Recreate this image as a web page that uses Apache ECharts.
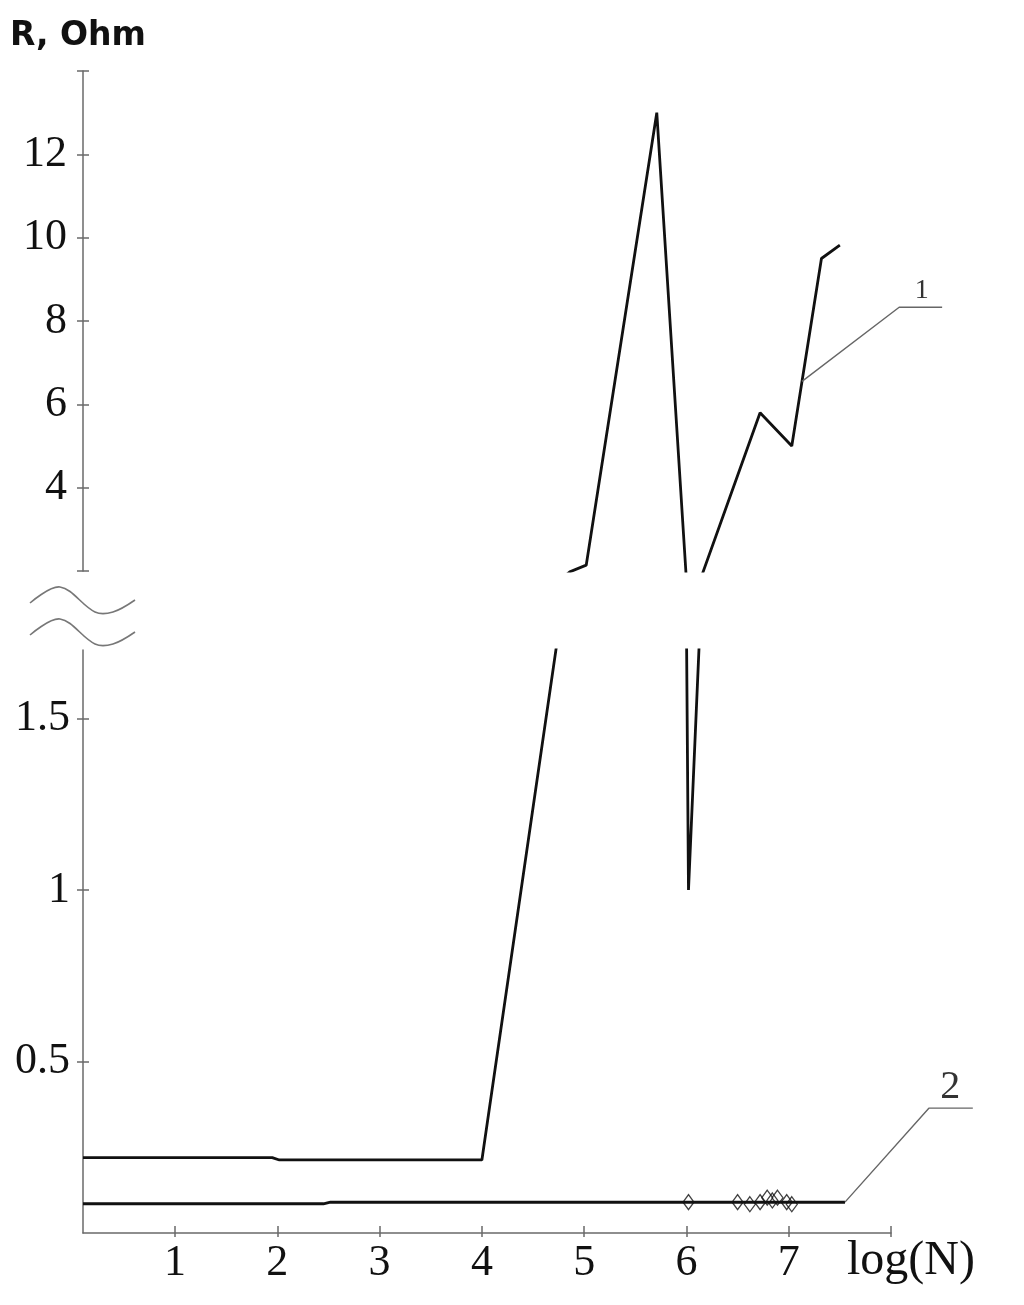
<!DOCTYPE html>
<html>
<head>
<meta charset="utf-8">
<script src="https://cdn.jsdelivr.net/npm/echarts@6/dist/echarts.min.js"></script>
<style>html,body{margin:0;padding:0;background:#fff}#c{width:1024px;height:1305px}</style>
</head>
<body>
<div id="c"></div>
<script>
// ---- data (log(N), R in Ohm) ----
const series1 = [[0.1,0.22],[1.95,0.22],[2.02,0.213],[4.0,0.213],[4.86,1.98],[5.02,2.14],[5.71,13.0],[6.02,1.0],[6.72,5.8],[7.03,5.0],[7.32,9.5],[7.5,9.82]];
const series2 = [[0.1,0.085],[2.45,0.085],[2.52,0.09],[7.55,0.09]];
const series2Markers = [[6.02,0.09],[6.5,0.09],[6.62,0.084],[6.72,0.09],[6.79,0.103],[6.84,0.095],[6.89,0.103],[6.98,0.09],[7.03,0.084]];
const leader1 = [[7.13,6.55],[8.08,8.33],[8.5,8.33]];
const leader2 = [[7.55,0.09],[8.37,0.364],[8.8,0.364]];
const label1Pos = [[8.3,8.33]];
const label2Pos = [[8.58,0.364]];
const xTicks = [1,2,3,4,5,6,7,8];
const xLabels = [1,2,3,4,5,6,7];
const yUpperTicks = [2,4,6,8,10,12,14];
const yUpperLabels = [4,6,8,10,12];
const yLowerTicks = [0.5,1,1.5];
const yLowerLabels = [0.5,1,1.5];

const AX = '#6a6a6a';
const serif = 'Liberation Serif';
const chart = echarts.init(document.getElementById('c'), null, {renderer:'canvas'});
const gridL = 83, gridR = 133;
const PX_PER_UNIT = (1024 - gridL - gridR) / (8 - 0.1);
const xBase = {type:'value', min:0.1, max:8};
const xWide = {type:'value', min:0.1, max:9.3, show:false};
const option = {
  backgroundColor:'#fff',
  animation:false,
  grid:[
    {left:gridL, right:gridR, top:71, height:500},
    {left:gridL, right:gridR, top:650, bottom:72},
    {left:gridL, width:PX_PER_UNIT*(9.3-0.1), top:71, height:500},
    {left:gridL, width:PX_PER_UNIT*(9.3-0.1), top:650, bottom:72}
  ],
  xAxis:[
    Object.assign({gridIndex:0, show:false}, xBase),
    Object.assign({gridIndex:1, position:'bottom',
      axisLine:{show:true, onZero:false, lineStyle:{color:AX, width:1.5}},
      axisTick:{show:true, inside:true, length:7, customValues:xTicks, lineStyle:{color:AX, width:1.5}},
      axisLabel:{show:true, customValues:xLabels, margin:8, color:'#111', fontFamily:serif, fontSize:44},
      splitLine:{show:false},
      name:'log(N)', nameLocation:'end', nameGap:-44,
      nameTextStyle:{fontFamily:serif, fontSize:48, color:'#111', align:'left', verticalAlign:'top', padding:[4,0,0,0]}
    }, xBase),
    Object.assign({gridIndex:1, position:'bottom',
      axisLine:{show:false, onZero:false},
      axisTick:{show:true, inside:false, length:4, customValues:xTicks, lineStyle:{color:AX, width:1.5}},
      axisLabel:{show:false}, splitLine:{show:false}
    }, xBase),
    Object.assign({gridIndex:2}, xWide),
    Object.assign({gridIndex:3}, xWide)
  ],
  yAxis:[
    {gridIndex:0, type:'value', min:2, max:14, position:'left',
      axisLine:{show:true, onZero:false, lineStyle:{color:AX, width:1.5}},
      axisTick:{show:true, inside:false, length:6, customValues:yUpperTicks, lineStyle:{color:AX, width:1.5}},
      axisLabel:{show:true, customValues:yUpperLabels, margin:16, color:'#111', fontFamily:serif, fontSize:44},
      splitLine:{show:false},
      name:'R, Ohm', nameLocation:'end', nameGap:18,
      nameTextStyle:{fontFamily:'DejaVu Sans', fontWeight:'bold', fontSize:33, color:'#111', align:'center', padding:[0,10,0,0]}
    },
    {gridIndex:0, type:'value', min:2, max:14, position:'left',
      axisLine:{show:false, onZero:false},
      axisTick:{show:true, inside:true, length:6, customValues:yUpperTicks, lineStyle:{color:AX, width:1.5}},
      axisLabel:{show:false}, splitLine:{show:false}
    },
    {gridIndex:1, type:'value', min:0, max:1.7, position:'left',
      axisLine:{show:true, onZero:false, lineStyle:{color:AX, width:1.5}},
      axisTick:{show:true, inside:false, length:6, customValues:yLowerTicks, lineStyle:{color:AX, width:1.5}},
      axisLabel:{show:true, customValues:yLowerLabels, margin:13, color:'#111', fontFamily:serif, fontSize:44},
      splitLine:{show:false}
    },
    {gridIndex:1, type:'value', min:0, max:1.7, position:'left',
      axisLine:{show:false, onZero:false},
      axisTick:{show:true, inside:true, length:6, customValues:yLowerTicks, lineStyle:{color:AX, width:1.5}},
      axisLabel:{show:false}, splitLine:{show:false}
    },
    {gridIndex:2, type:'value', min:2, max:14, show:false},
    {gridIndex:3, type:'value', min:0, max:1.7, show:false}
  ],
  series:[
    {name:'1 upper', type:'line', xAxisIndex:0, yAxisIndex:0, data:series1, showSymbol:false, symbol:'none', clip:true,
      lineStyle:{color:'#111', width:2.8}},
    {name:'1 lower', type:'line', xAxisIndex:1, yAxisIndex:2, data:series1, showSymbol:false, symbol:'none', clip:true,
      lineStyle:{color:'#111', width:2.8}},
    {name:'2', type:'line', xAxisIndex:1, yAxisIndex:2, data:series2, showSymbol:false, symbol:'none', clip:true,
      lineStyle:{color:'#111', width:3}},
    {name:'2 markers', type:'scatter', xAxisIndex:1, yAxisIndex:2, data:series2Markers, symbol:'diamond', symbolSize:[11,15],
      itemStyle:{color:'rgba(255,255,255,0)', borderColor:'#111', borderWidth:1.3}},
    {name:'leader 1', type:'line', xAxisIndex:3, yAxisIndex:4, data:leader1, showSymbol:false, symbol:'none', clip:false,
      lineStyle:{color:'#666', width:1.4}},
    {name:'leader 2', type:'line', xAxisIndex:4, yAxisIndex:5, data:leader2, showSymbol:false, symbol:'none', clip:false,
      lineStyle:{color:'#666', width:1.4}},
    {name:'label 1', type:'scatter', xAxisIndex:3, yAxisIndex:4, data:label1Pos, symbolSize:1, clip:false,
      itemStyle:{color:'rgba(0,0,0,0)'},
      label:{show:true, position:'top', distance:2, formatter:'1', fontFamily:serif, fontSize:28, color:'#000'}},
    {name:'label 2', type:'scatter', xAxisIndex:4, yAxisIndex:5, data:label2Pos, symbolSize:1, clip:false,
      itemStyle:{color:'rgba(0,0,0,0)'},
      label:{show:true, position:'top', distance:0, formatter:'2', fontFamily:serif, fontSize:40, color:'#000'}}
  ],
  graphic:[
    {type:'polyline', shape:{points:[[30,603],[60,587],[95,612],[113,612],[135,600]], smooth:0.35},
      style:{fill:null, stroke:'#777', lineWidth:1.6}},
    {type:'polyline', shape:{points:[[30,635],[60,619],[95,644],[113,644],[135,632]], smooth:0.35},
      style:{fill:null, stroke:'#777', lineWidth:1.6}}
  ]
};
chart.setOption(option);
</script>
</body>
</html>
